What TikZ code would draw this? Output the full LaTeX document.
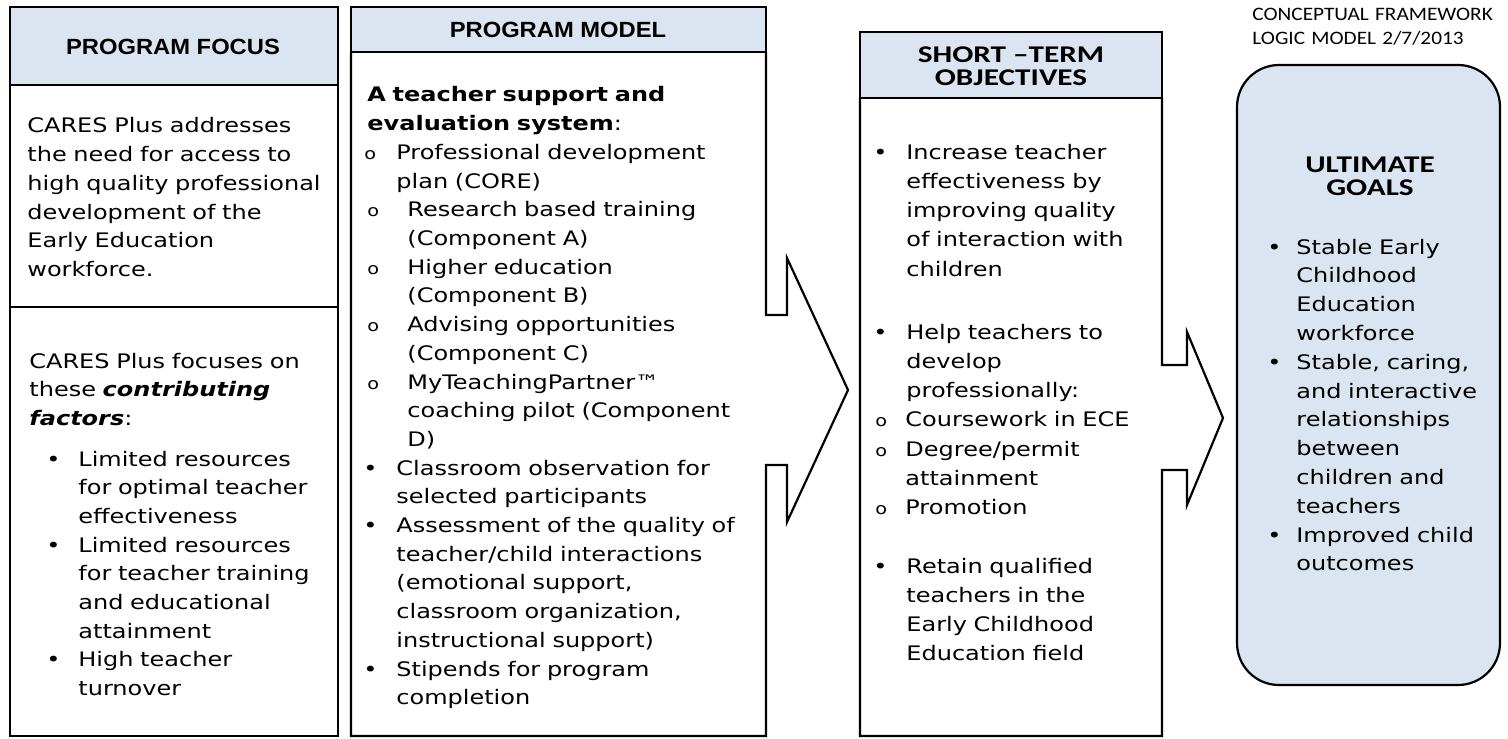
\documentclass[tikz,border=0pt]{standalone}
\usepackage{fontspec}
\setmainfont{DejaVu Sans}[FakeStretch=1.2]
\newfontfamily\headfont{Liberation Sans}[FakeStretch=1.08]
\newfontfamily\calfont{Carlito}[FakeStretch=1.3]
\newfontfamily\notefont{Carlito}[FakeStretch=1.12]
\usetikzlibrary{positioning}
\definecolor{headblue}{RGB}{219,229,241}
\newcommand{\lmitem}[3]{\noindent\hangindent=#2\relax\hangafter=1\relax\hbox to #2{\hskip#1\relax#3\hfil}\ignorespaces}
\newcommand{\sbul}{{\fontsize{8}{8}\selectfont o}}

\begin{document}
\begin{tikzpicture}[x=0.5pt, y=-0.5pt,
    box/.style={line width=1.1pt, line join=miter},
    body/.style={anchor=base west, inner sep=0pt, text width=#1, align=left,
      font=\fontsize{10}{14.35}\selectfont},
    obj/.style={anchor=base west, inner sep=0pt, text width=150pt, align=left,
      font=\fontsize{10}{14.65}\selectfont},
    goal/.style={anchor=base west, inner sep=0pt, text width=120pt, align=left,
      font=\fontsize{10}{14.4}\selectfont},
    heada/.style={inner sep=0pt, font=\headfont\bfseries\fontsize{11}{13}\selectfont},
    headb/.style={inner sep=0pt, align=center, font=\calfont\bfseries\fontsize{12}{11.5}\selectfont},
    note/.style={anchor=base west, inner sep=0pt, text width=140pt, align=left,
      font=\notefont\fontsize{9.5}{12}\selectfont}]
  \useasboundingbox (0,0) rectangle (1508,738);

  \filldraw[box, fill=headblue] (10,7) rectangle (338,85);
  \draw[box] (10,7) rectangle (338,736);
  \draw[box] (10,307) -- (338,307);

  \filldraw[box, fill=headblue] (351,7) rectangle (766,52);
  \draw[box] (351,52) -- (351,736) -- (766,736) -- (766,465) -- (787,465) -- (787,522)
    -- (848,390) -- (787,258) -- (787,315) -- (766,315) -- (766,52);

  \filldraw[box, fill=headblue] (860,32) rectangle (1162,98);
  \draw[box] (860,98) -- (860,736) -- (1162,736) -- (1162,470) -- (1187,470) -- (1187,505)
    -- (1223,418) -- (1187,332) -- (1187,365) -- (1162,365) -- (1162,98);

  \filldraw[box, fill=headblue, rounded corners=21pt] (1237,65) rectangle (1500,685);

  \node[heada] (focushead) at (173,47) {PROGRAM FOCUS};
  \node[heada] (modelhead) at (558,30) {PROGRAM MODEL};
  \node[headb] (objhead) at (1011,66.5) {SHORT –TERM\\OBJECTIVES};
  \node[headb] (goalhead) at (1370,176.5) {ULTIMATE\\GOALS};
  \node[note] (stamp) at (1252,21) {CONCEPTUAL FRAMEWORK\\LOGIC MODEL 2/7/2013};

  \node[body=170pt] (focustext) at (27,133) {CARES Plus addresses\newline the need for access to\newline
    high quality professional\newline development of the\newline Early Education\newline workforce.};
  \node[body=170pt] (factorintro) at (29,368) {CARES Plus focuses on\newline
    these \textbf{\textit{contributing}}\newline \textbf{\textit{factors}}:};
  \node[body=170pt] (factors) at (29,466) {%
    \lmitem{8.5pt}{24.5pt}{•}Limited resources\newline for optimal teacher\newline effectiveness\par
    \lmitem{8.5pt}{24.5pt}{•}Limited resources\newline for teacher training\newline and educational\newline attainment\par
    \lmitem{8.5pt}{24.5pt}{•}High teacher\newline turnover\par};

  \node[body=240pt] (modeltext) at (367,102) {\textbf{A teacher support and\newline evaluation system}:\par
    \lmitem{-1.5pt}{14.5pt}{\sbul}Professional development\newline plan (CORE)\par
    \lmitem{0pt}{20pt}{\sbul}Research based training\newline (Component A)\par
    \lmitem{0pt}{20pt}{\sbul}Higher education\newline (Component B)\par
    \lmitem{0pt}{20pt}{\sbul}Advising opportunities\newline (Component C)\par
    \lmitem{0pt}{20pt}{\sbul}MyTeachingPartner™\newline coaching pilot (Component\newline D)\par
    \lmitem{-2pt}{14.5pt}{•}Classroom observation for\newline selected participants\par
    \lmitem{-2pt}{14.5pt}{•}Assessment of the quality of\newline teacher/child interactions\newline
      (emotional support,\newline classroom organization,\newline instructional support)\par
    \lmitem{-2pt}{14.5pt}{•}Stipends for program\newline completion\par};

  \node[obj] (increase) at (880,159) {%
    \lmitem{-3.5pt}{13pt}{•}Increase teacher\newline effectiveness by\newline improving quality\newline
      of interaction with\newline children\par};
  \node[obj] (develop) at (880,339) {%
    \lmitem{-3.5pt}{13pt}{•}Help teachers to\newline develop\newline professionally:\par
    \lmitem{-2.5pt}{12.5pt}{\sbul}Coursework in ECE\par
    \lmitem{-2.5pt}{12.5pt}{\sbul}Degree/permit\newline attainment\par
    \lmitem{-2.5pt}{12.5pt}{\sbul}Promotion\par};
  \node[obj] (retain) at (880,573) {%
    \lmitem{-3.5pt}{13pt}{•}Retain qualified\newline teachers in the\newline Early Childhood\newline Education field\par};

  \node[goal] (goals) at (1274,254) {%
    \lmitem{-3.5pt}{11pt}{•}Stable Early\newline Childhood\newline Education\newline workforce\par
    \lmitem{-3.5pt}{11pt}{•}Stable, caring,\newline and interactive\newline relationships\newline between\newline
      children and\newline teachers\par
    \lmitem{-3.5pt}{11pt}{•}Improved child\newline outcomes\par};
\end{tikzpicture}
\end{document}
